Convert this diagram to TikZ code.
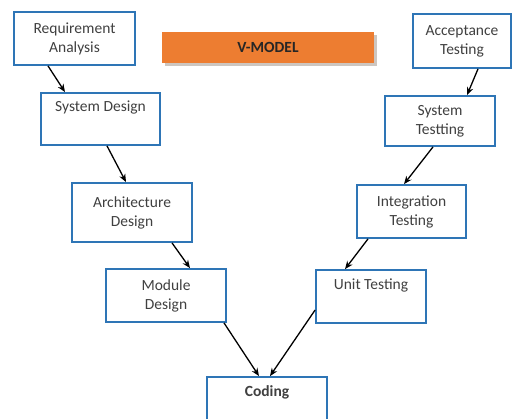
\documentclass[tikz,border=0pt]{standalone}
\usepackage{fontspec}
\setmainfont{Carlito}
\usetikzlibrary{arrows.meta}
\definecolor{boxblue}{RGB}{46,117,182}
\definecolor{vorange}{RGB}{237,125,49}
\definecolor{txtgray}{RGB}{64,64,64}
\definecolor{shadowgray}{RGB}{205,198,192}
\begin{document}
\begin{tikzpicture}[x=1pt,y=-1pt,
  stagebox/.style={draw=boxblue, line width=1.8pt, fill=white, inner sep=0pt,
    align=center, text=txtgray, font=\fontsize{15.5}{19}\selectfont},
  flow/.style={-{Stealth[length=8pt,width=6.5pt]}, line width=1.3pt, black}]
\clip (0,0) rectangle (513,419);
\fill[white] (0,0) rectangle (513,419);
% title
\node[fill=shadowgray, minimum width=212pt, minimum height=31pt, inner sep=0pt] (vshadow) at (271,51) {};
\node[fill=vorange, minimum width=212pt, minimum height=31pt, inner sep=0pt,
  font=\fontsize{15.5}{18}\selectfont\bfseries, text=black!85] (vmodel) at (268,47.5) {V-MODEL};
% left side
\node[stagebox, minimum width=121pt, minimum height=53pt] (ra) at (74.5,38.5) {Requirement\\Analysis};
\node[stagebox, minimum width=119pt, minimum height=52pt] (sd) at (100.5,119) {System Design\\\strut};
\node[stagebox, minimum width=120pt, minimum height=59pt] (ad) at (132,212.5) {Architecture\\Design};
\node[stagebox, minimum width=120pt, minimum height=53pt] (md) at (166,295.5) {Module\\Design};
% bottom
\node[stagebox, minimum width=120pt, minimum height=52pt, font=\fontsize{15.5}{19}\selectfont\bfseries] (co) at (267,403) {Coding\\\strut};
% right side
\node[stagebox, minimum width=110pt, minimum height=53pt] (ut) at (371,296.5) {Unit Testing\\\strut};
\node[stagebox, minimum width=109pt, minimum height=53pt] (it) at (411.5,211.5) {Integration\\Testing};
\node[stagebox, minimum width=110pt, minimum height=50pt] (st) at (440,121) {System\\Testting};
\node[stagebox, minimum width=98pt, minimum height=54pt] (at) at (462,41) {Acceptance\\Testing};
% connectors
\draw[flow] ([xshift=-26.5pt]ra.south) -- ([xshift=-35.5pt]sd.north);
\draw[flow] ([xshift=6.5pt]sd.south) -- ([xshift=-6pt]ad.north);
\draw[flow] ([xshift=40pt]ad.south) -- ([xshift=24pt]md.north);
\draw[flow] ([xshift=58pt]md.south) -- ([xshift=-8pt]co.north);
\draw[flow] ([yshift=-13.5pt]ut.west) -- ([xshift=3pt]co.north);
\draw[flow] ([xshift=-43.5pt]it.south) -- ([xshift=-26pt]ut.north);
\draw[flow] ([xshift=-7pt]st.south) -- ([xshift=-7.5pt]it.north);
\draw[flow] ([xshift=16pt]at.south) -- ([xshift=27pt]st.north);
\end{tikzpicture}
\end{document}
